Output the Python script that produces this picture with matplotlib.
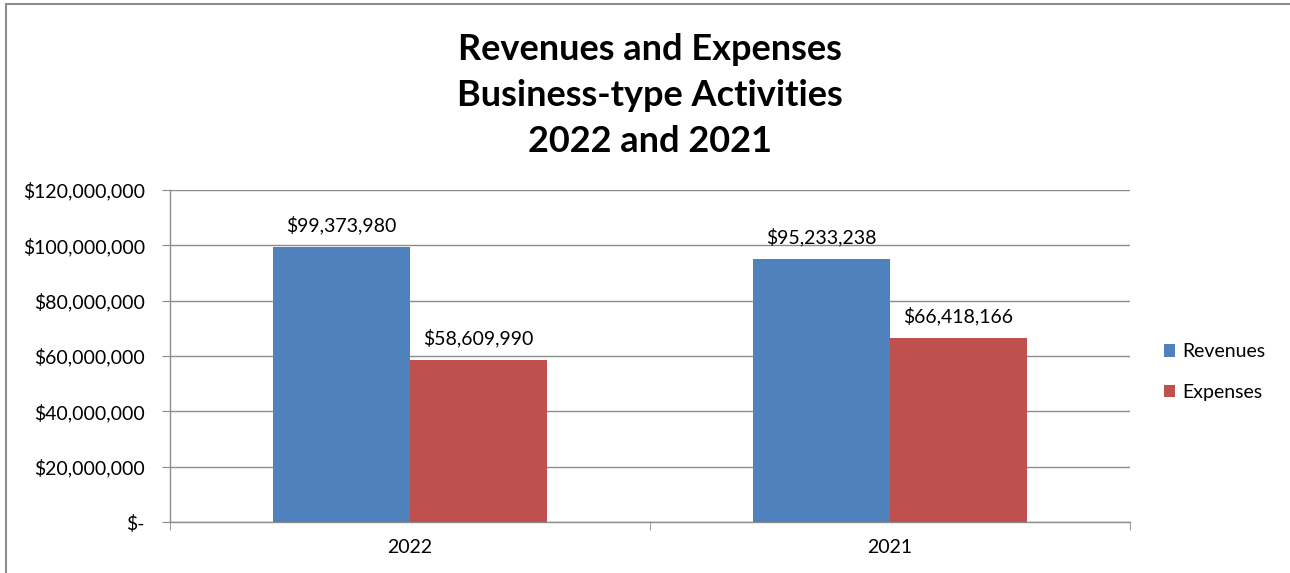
import matplotlib
matplotlib.use("Agg")
import matplotlib.pyplot as plt
import matplotlib.ticker as mticker
from matplotlib.patches import Rectangle
import numpy as np

categories = ["2022", "2021"]
revenues = [99373980, 95233238]
expenses = [58609990, 66418166]
series_names = ["Revenues", "Expenses"]
title_lines = ["Revenues and Expenses", "Business-type Activities", "2022 and 2021"]

plt.rcParams['font.family'] = ['Lato', 'DejaVu Sans']

fig = plt.figure(figsize=(12.9, 5.73), dpi=100)
fig.patch.set_facecolor("white")
fig.patches.append(Rectangle((6/1290, -0.1), 1.2, 1 - 4/573 + 0.1, transform=fig.transFigure,
                             fill=False, edgecolor="#8c8c8c", linewidth=1.5))

ax = fig.add_axes([170/1290, 1 - 522/573, 960/1290, 332/573])

x = np.arange(len(categories))
w = 0.285
blue = "#4F81BD"
red = "#C0504D"
b1 = ax.bar(x - w/2, revenues, w, color=blue, label=series_names[0], zorder=3)
b2 = ax.bar(x + w/2, expenses, w, color=red, label=series_names[1], zorder=3)

for bars, vals in ((b1, revenues), (b2, expenses)):
    for rect, v in zip(bars, vals):
        ax.annotate(f"${v:,.0f}", (rect.get_x() + rect.get_width()/2, v),
                    xytext=(0, 9), textcoords="offset points", ha="center", va="bottom",
                    fontsize=14, color="black")

ax.set_xlim(-0.5, len(categories) - 0.5)
ax.set_ylim(0, 120000000)
ax.yaxis.set_major_locator(mticker.MultipleLocator(20000000))

def fmt(v, pos):
    if v == 0:
        return "$-"
    return f"${v:,.0f}"
ax.yaxis.set_major_formatter(mticker.FuncFormatter(fmt))
ax.grid(axis="y", color="#8c8c8c", linewidth=1, zorder=0)

ax.set_xticks(x)
ax.set_xticklabels(categories, fontsize=14)
ax.set_xticks([-0.5, 0.5, 1.5], minor=True)
ax.tick_params(axis="x", which="major", length=0, pad=12)
ax.tick_params(axis="x", which="minor", length=6, color="#8c8c8c", direction="out")
ax.tick_params(axis="y", length=6, color="#8c8c8c", labelsize=14, pad=12)

for s in ("top", "right"):
    ax.spines[s].set_visible(False)
for s in ("left", "bottom"):
    ax.spines[s].set_color("#8c8c8c")
    ax.spines[s].set_linewidth(1)

ys = [49, 96, 142]
for t, y in zip(title_lines, ys):
    fig.text(650/1290, 1 - y/573, t, ha="center", va="center", fontsize=26, fontweight="bold")

leg = fig.legend(handles=[b1, b2], labels=series_names, loc="center left",
                 bbox_to_anchor=(1146/1290, 1 - 372/573), frameon=False, fontsize=14,
                 handlelength=0.6, handleheight=0.6, handletextpad=0.35, labelspacing=1.2)

fig.savefig("out.png", dpi=100)
